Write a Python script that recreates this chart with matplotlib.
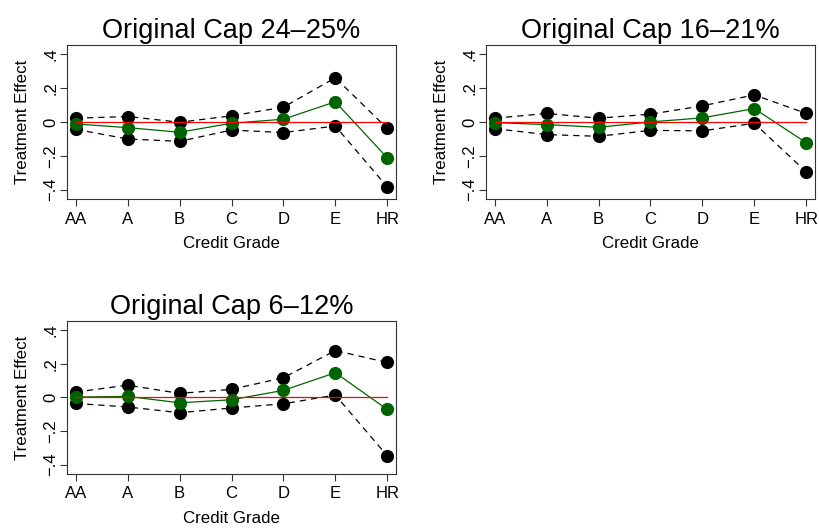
"""Treatment effect by credit grade, three original-cap panels."""

import matplotlib
matplotlib.use("Agg")
import matplotlib.pyplot as plt

plt.rcParams["font.family"] = ["Liberation Sans", "DejaVu Sans"]

grades = ["AA", "A", "B", "C", "D", "E", "HR"]
yticks = [-0.4, -0.2, 0.0, 0.2, 0.4]
ytick_labels = ["\u2212.4", "\u2212.2", "0", ".2", ".4"]

titles = ["Original Cap 24\u201325%", "Original Cap 16\u201321%", "Original Cap 6\u201312%"]

# point estimates and upper / lower bounds per panel
est_24 = [-0.012, -0.034, -0.061, -0.008, 0.016, 0.119, -0.212]
hi_24 = [0.022, 0.032, -0.002, 0.036, 0.087, 0.261, -0.038]
lo_24 = [-0.044, -0.101, -0.115, -0.048, -0.063, -0.024, -0.384]

est_16 = [-0.004, -0.016, -0.032, 0.000, 0.024, 0.079, -0.123]
hi_16 = [0.022, 0.050, 0.022, 0.046, 0.095, 0.160, 0.050]
lo_16 = [-0.040, -0.075, -0.085, -0.050, -0.053, -0.008, -0.295]

est_6 = [0.002, 0.006, -0.032, -0.014, 0.042, 0.147, -0.071]
hi_6 = [0.032, 0.073, 0.024, 0.048, 0.117, 0.279, 0.208]
lo_6 = [-0.036, -0.057, -0.091, -0.063, -0.038, 0.014, -0.347]

panels = [
    (est_24, hi_24, lo_24),
    (est_16, hi_16, lo_16),
    (est_6, hi_6, lo_6),
]

W, H = 820, 531
# axes boxes in pixels: left, top, right, bottom
boxes = [
    (67, 45, 396, 199),
    (486, 45, 815, 199),
    (67, 321, 396, 474),
]


def draw_panel(ax, title, est, hi, lo):
    x = list(range(1, len(grades) + 1))
    ms = 9.5
    for bound in (hi, lo):
        ax.plot(x, bound, color="black", lw=0.9, dashes=(5, 4),
                marker="o", ms=ms, mec="black", mfc="black", mew=0)
    ax.plot(x, est, color="#006400", lw=0.9, marker="o", ms=ms,
            mfc="#006400", mec="#006400", mew=0)
    ax.plot([x[0], x[-1]], [0, 0], color="red", lw=0.9)

    ax.set_xlim(0.83, 7.17)
    ax.set_ylim(-0.456, 0.455)
    ax.set_xticks(x)
    ax.set_xticklabels(grades, fontsize=12)
    ax.set_yticks(yticks)
    ax.set_yticklabels(ytick_labels, fontsize=12, rotation=90, va="center")
    ax.tick_params(axis="both", direction="out", length=5, width=0.8,
                   color="#333333")
    ax.tick_params(axis="x", pad=4)
    ax.tick_params(axis="y", pad=1)
    for s in ax.spines.values():
        s.set_linewidth(0.8)
        s.set_color("#333333")
    ax.set_xlabel("Credit Grade", fontsize=12.2, labelpad=7)
    ax.set_ylabel("Treatment Effect", fontsize=12.2, labelpad=10)
    ax.set_title(title, fontsize=19.5, pad=5)


def main():
    fig = plt.figure(figsize=(W / 100, H / 100), dpi=100)
    for (l, t, r, b), title, (est, hi, lo) in zip(boxes, titles, panels):
        ax = fig.add_axes([l / W, (H - b) / H, (r - l) / W, (b - t) / H])
        draw_panel(ax, title, est, hi, lo)
    fig.savefig("out.png", dpi=100)


if __name__ == "__main__":
    main()
